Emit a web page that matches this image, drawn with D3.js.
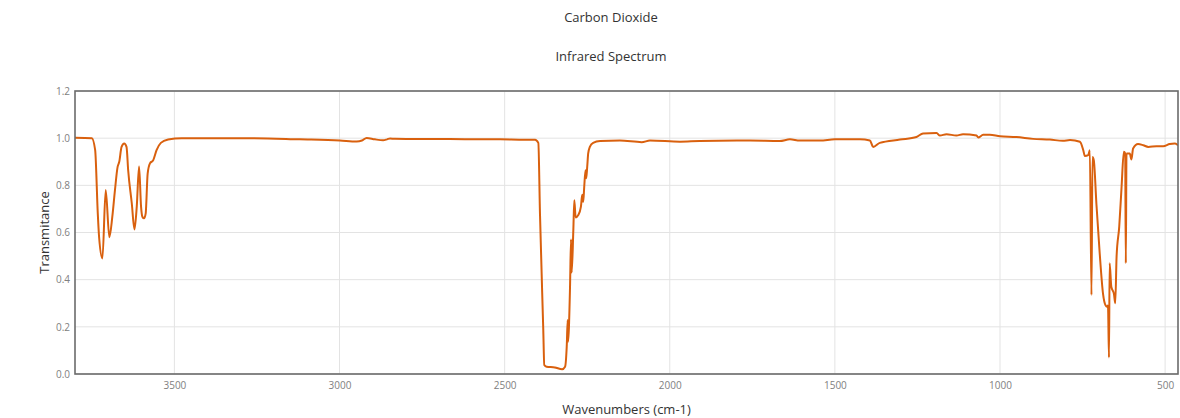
<!DOCTYPE html>
<html>
<head>
<meta charset="utf-8">
<script src="https://cdn.jsdelivr.net/npm/d3@7/dist/d3.min.js"></script>
<style>
  html, body { margin: 0; padding: 0; background: #fff; }
  svg { display: block; font-family: "Open Sans", "Noto Sans", sans-serif; }
</style>
</head>
<body>
<svg id="chart" width="1180" height="418"></svg>
<script>
// CO2 infrared spectrum: wavenumber (cm-1) and transmittance
const wavenumbers = [
  3801, 3750, 3740, 3732, 3728, 3718, 3708, 3697, 3688, 3680, 3672, 3667, 3660, 3652,
  3645, 3640, 3629, 3621, 3614, 3607, 3601, 3597, 3592, 3587, 3581, 3574, 3564, 3554,
  3541, 3519, 3478, 3271, 3120, 2999, 2948, 2932, 2918, 2893, 2868, 2856, 2847, 2832,
  2666, 2514, 2439, 2408, 2398, 2393, 2383, 2380, 2373, 2348, 2326, 2317, 2312, 2309,
  2308, 2302, 2299, 2297, 2292, 2289, 2285, 2277, 2269, 2265, 2262, 2259, 2255, 2253,
  2250, 2247, 2242, 2232, 2211, 2151, 2085, 2060, 1969, 1909, 1757, 1667, 1636, 1606,
  1545, 1500, 1424, 1394, 1384, 1364, 1303, 1253, 1233, 1192, 1182, 1162, 1132, 1112,
  1071, 1066, 1051, 1031, 1000, 950, 900, 849, 810, 788, 758, 748, 743, 733, 728, 723,
  720, 716, 708, 698, 688, 680, 676, 673, 670, 668, 663, 655, 651, 647, 639, 632, 625,
  621, 619, 617, 607, 602, 597, 582, 566, 551, 526, 506, 486, 471, 461
];
const transmittance = [
  1.002, 1.0, 0.95, 0.68, 0.58, 0.49, 0.78, 0.58, 0.667, 0.78, 0.878, 0.90, 0.963, 0.977,
  0.963, 0.864, 0.723, 0.613, 0.71, 0.88, 0.71, 0.667, 0.66, 0.68, 0.85, 0.893, 0.907, 0.949,
  0.98, 0.994, 1.0, 1.0, 0.995, 0.99, 0.986, 0.99, 1.001, 0.995, 0.991, 0.995, 0.999, 0.997,
  0.996, 0.995, 0.993, 0.993, 0.98, 0.68, 0.186, 0.038, 0.031, 0.028, 0.02, 0.031, 0.116, 0.229,
  0.137, 0.37, 0.57, 0.43, 0.61, 0.737, 0.664, 0.674, 0.71, 0.76, 0.73, 0.794, 0.864, 0.83,
  0.878, 0.935, 0.963, 0.98, 0.988, 0.99, 0.983, 0.99, 0.985, 0.988, 0.99, 0.988, 0.995, 0.99,
  0.99, 0.995, 0.995, 0.99, 0.963, 0.98, 0.994, 1.005, 1.02, 1.022, 1.011, 1.017, 1.011, 1.017,
  1.011, 1.003, 1.014, 1.014, 1.008, 1.005, 0.997, 0.994, 0.989, 0.992, 0.985, 0.95, 0.924, 0.928, 0.949, 0.335,
  0.92, 0.907, 0.72, 0.51, 0.34, 0.29, 0.285, 0.29, 0.07, 0.47, 0.37, 0.34, 0.30, 0.497, 0.624, 0.79, 0.942,
  0.935, 0.47, 0.935, 0.935, 0.91, 0.956, 0.975, 0.97, 0.963, 0.966, 0.966, 0.975, 0.977, 0.97
];
const xTicks = [3500, 3000, 2500, 2000, 1500, 1000, 500];
const yTicks = [0, 0.2, 0.4, 0.6, 0.8, 1.0, 1.2];
const chartTitle = "Carbon Dioxide";
const chartSubtitle = "Infrared Spectrum";
const xLabel = "Wavenumbers (cm-1)";
const yLabel = "Transmitance";

const points = wavenumbers.map((w, i) => ({ w, t: transmittance[i] }));

const margin = { left: 75, right: 2, top: 91, bottom: 44 };
const width = 1180, height = 418;
const svg = d3.select("#chart");

const x = d3.scaleLinear()
  .domain([3801, 461])
  .range([margin.left, width - margin.right]);
const y = d3.scaleLinear()
  .domain([0, 1.2])
  .range([height - margin.bottom, margin.top]);

const plotW = width - margin.right - margin.left;
const plotH = height - margin.bottom - margin.top;

// grid
const grid = svg.append("g");
grid.selectAll("line.gx").data(xTicks).join("line")
  .attr("x1", d => x(d)).attr("x2", d => x(d))
  .attr("y1", margin.top).attr("y2", margin.top + plotH)
  .attr("stroke", "#e3e3e3").attr("stroke-width", 1);
grid.selectAll("line.gy").data(yTicks).join("line")
  .attr("x1", margin.left).attr("x2", margin.left + plotW)
  .attr("y1", d => y(d)).attr("y2", d => y(d))
  .attr("stroke", "#e3e3e3").attr("stroke-width", 1);

// axes (labels only; frame drawn separately)
const xAxis = svg.append("g")
  .attr("transform", `translate(0,${margin.top + plotH})`)
  .call(d3.axisBottom(x).tickValues(xTicks).tickSize(0).tickPadding(8).tickFormat(d3.format("d")));
const yAxis = svg.append("g")
  .attr("transform", `translate(${margin.left},0)`)
  .call(d3.axisLeft(y).tickValues(yTicks).tickSize(0).tickPadding(5).tickFormat(d3.format(".1f")));
[xAxis, yAxis].forEach(a => {
  a.select(".domain").remove();
  a.selectAll("text").attr("fill", "#808080").attr("font-size", 10)
    .attr("font-family", "'Open Sans', sans-serif");
});

// spectrum line
svg.append("clipPath").attr("id", "plotClip")
  .append("rect").attr("x", margin.left).attr("y", margin.top)
  .attr("width", plotW).attr("height", plotH);

const line = d3.line().curve(d3.curveMonotoneX).x(d => x(d.w)).y(d => y(d.t));
svg.append("path")
  .datum(points)
  .attr("clip-path", "url(#plotClip)")
  .attr("fill", "none")
  .attr("stroke", "#d9600e")
  .attr("stroke-width", 2)
  .attr("stroke-linejoin", "round")
  .attr("d", line);

// frame
svg.append("rect")
  .attr("x", margin.left).attr("y", margin.top)
  .attr("width", plotW).attr("height", plotH)
  .attr("fill", "none").attr("stroke", "#6b6b6b").attr("stroke-width", 1.6);

// titles
svg.append("text").attr("x", 611).attr("y", 22).attr("text-anchor", "middle")
  .attr("font-size", 13).attr("fill", "#333").text(chartTitle);
svg.append("text").attr("x", 611).attr("y", 61).attr("text-anchor", "middle")
  .attr("font-size", 13).attr("fill", "#333").text(chartSubtitle);
svg.append("text").attr("x", margin.left + plotW / 2).attr("y", 414).attr("text-anchor", "middle")
  .attr("font-size", 13).attr("fill", "#333").text(xLabel);
svg.append("text")
  .attr("transform", `translate(49,${margin.top + plotH / 2}) rotate(-90)`)
  .attr("text-anchor", "middle")
  .attr("font-size", 13).attr("fill", "#333").text(yLabel);
</script>
</body>
</html>
